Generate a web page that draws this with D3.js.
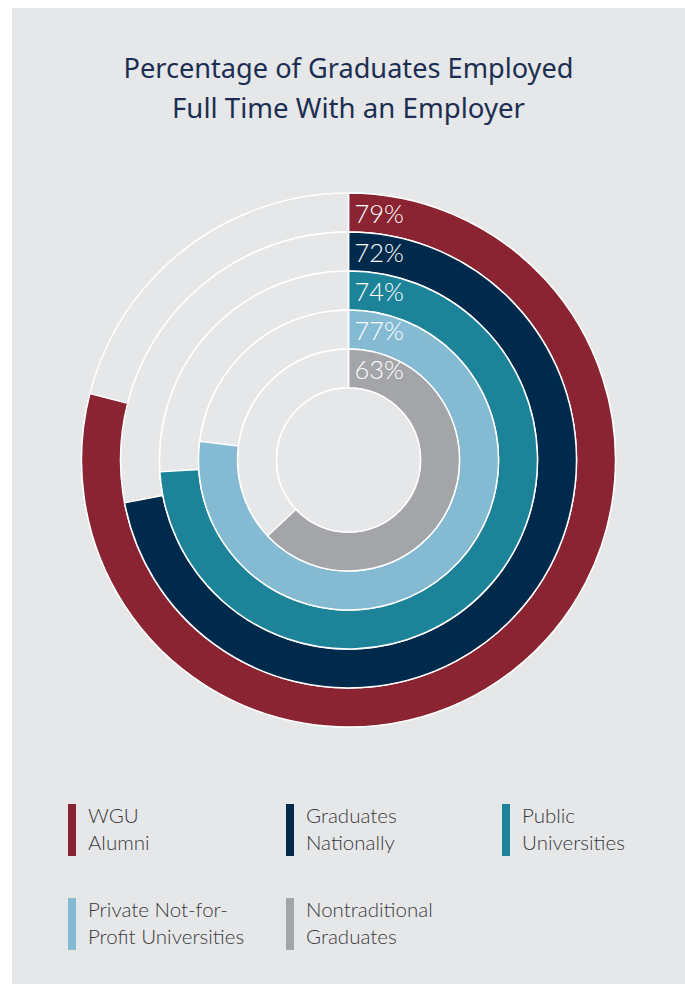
<!DOCTYPE html>
<html>
<head>
<meta charset="utf-8">
<script src="https://cdn.jsdelivr.net/npm/d3@7/dist/d3.min.js"></script>
<style>
  html, body { margin: 0; padding: 0; background: #ffffff; }
  svg { display: block; }
</style>
</head>
<body>
<svg id="chart" width="685" height="984"></svg>
<script>
const categories = ["WGU Alumni", "Graduates Nationally", "Public Universities", "Private Not-for-Profit Universities", "Nontraditional Graduates"];
const values = [79, 72, 74, 77, 63];
const colors = ["#8a2332", "#002a4b", "#1c8399", "#84bbd2", "#a3a5a8"];
const legendLines = [["WGU", "Alumni"], ["Graduates", "Nationally"], ["Public", "Universities"], ["Private Not-for-", "Profit Universities"], ["Nontraditional", "Graduates"]];
const titleLines = ["Percentage of Graduates Employed", "Full Time With an Employer"];

const svg = d3.select("#chart");
const bg = "#e6e7e8";

svg.append("rect").attr("x", 12).attr("y", 8).attr("width", 673).attr("height", 976).attr("fill", bg);

// Title
const titleWidths = [450, 353];
svg.append("g").selectAll("text").data(titleLines).join("text")
  .attr("x", 348.5)
  .attr("y", (d, i) => 78 + i * 40)
  .attr("text-anchor", "middle")
  .attr("font-family", "'Noto Sans', sans-serif")
  .attr("font-size", 28)
  .attr("fill", "#1c2f52")
  .attr("textLength", (d, i) => titleWidths[i])
  .attr("lengthAdjust", "spacingAndGlyphs")
  .text(d => d);

// Rings
const cx = 348.5, cy = 460;
const r = d3.scaleLinear().domain([0, categories.length]).range([267, 72]);
const angle = d3.scaleLinear().domain([0, 100]).range([0, 2 * Math.PI]);
const arc = d3.arc();

const g = svg.append("g").attr("transform", `translate(${cx},${cy})`);

// tracks
g.selectAll("path.track").data(categories).join("path")
  .attr("class", "track")
  .attr("d", (d, i) => arc({innerRadius: r(i + 1), outerRadius: r(i), startAngle: 0, endAngle: 2 * Math.PI}))
  .attr("fill", bg)
  .attr("stroke", "#ffffff")
  .attr("stroke-width", 1.5);

// value arcs
g.selectAll("path.val").data(values).join("path")
  .attr("class", "val")
  .attr("d", (d, i) => arc({innerRadius: r(i + 1), outerRadius: r(i), startAngle: 0, endAngle: angle(d)}))
  .attr("fill", (d, i) => colors[i])
  .attr("stroke", "#ffffff")
  .attr("stroke-width", 1.5);

// inner circle outline
g.append("circle").attr("r", r(categories.length)).attr("fill", bg).attr("stroke", "#ffffff").attr("stroke-width", 1.5);

// start line
g.append("line").attr("x1", 0).attr("x2", 0).attr("y1", -r(0)).attr("y2", -r(categories.length))
  .attr("stroke", "#ffffff").attr("stroke-width", 1.5);

// value labels
g.selectAll("text.lbl").data(values).join("text")
  .attr("class", "lbl")
  .attr("x", 6)
  .attr("y", (d, i) => -(r(i) + r(i + 1)) / 2 + 10)
  .attr("font-family", "Lato, sans-serif")
  .attr("font-weight", 300)
  .attr("font-size", 25.5)
  .attr("fill", "#ffffff")
  .text(d => d + "%");

// Legend
const legX = [68, 286, 502];
const legY = [804, 898];
const leg = svg.append("g").selectAll("g").data(categories).join("g")
  .attr("transform", (d, i) => `translate(${legX[i % 3]},${legY[Math.floor(i / 3)]})`);
leg.append("rect").attr("width", 8).attr("height", 52).attr("fill", (d, i) => colors[i]);
leg.append("text")
  .attr("x", 20)
  .attr("font-family", "Lato, sans-serif")
  .attr("font-weight", 300)
  .attr("font-size", 20.5)
  .attr("fill", "#3a3a3b")
  .selectAll("tspan").data((d, i) => legendLines[i]).join("tspan")
  .attr("x", 20)
  .attr("y", (d, j) => 19 + j * 26.5)
  .text(d => d);
</script>
</body>
</html>
